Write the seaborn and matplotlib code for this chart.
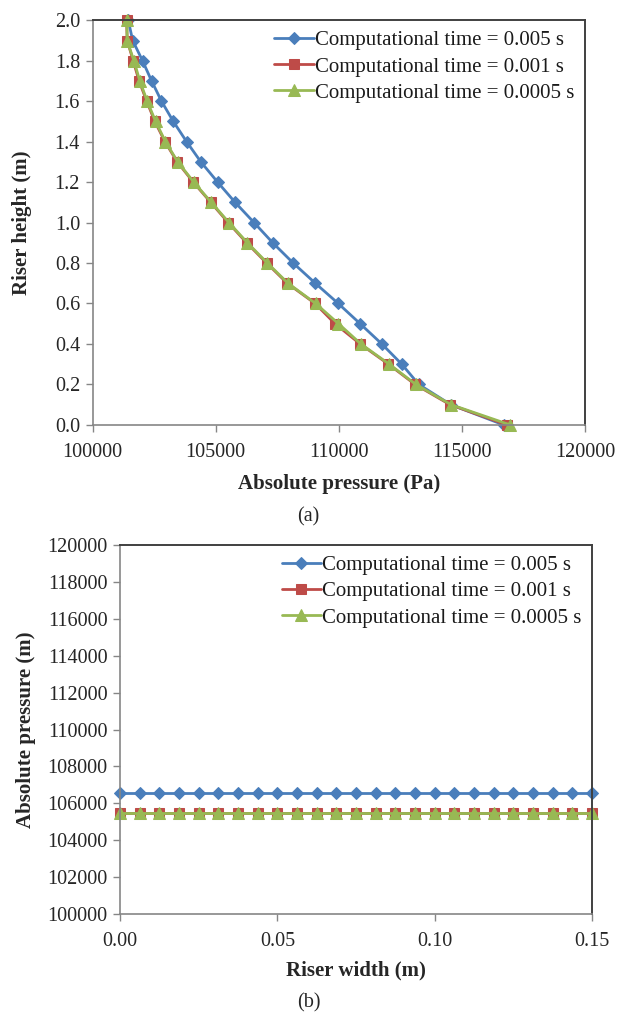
import numpy as np
import pandas as pd
import matplotlib
matplotlib.use("Agg")
import matplotlib.pyplot as plt
from matplotlib.ticker import FormatStrFormatter, MultipleLocator
import seaborn as sns

# ---------------- data ----------------
height = [2.0, 1.9, 1.8, 1.7, 1.6, 1.5, 1.4, 1.3, 1.2, 1.1, 1.0,
          0.9, 0.8, 0.7, 0.6, 0.5, 0.4, 0.3, 0.2, 0.1, 0.0]
p_dt_0005 = [101450, 101630, 102030, 102400, 102800, 103280, 103820, 104400,
             105080, 105790, 106560, 107320, 108150, 109050, 109980, 110870,
             111750, 112560, 113250, 114550, 116700]
p_dt_0001 = [101380, 101410, 101650, 101890, 102200, 102530, 102940, 103440,
             104090, 104800, 105510, 106260, 107070, 107910, 109040, 109850,
             110870, 112020, 113100, 114520, 116830]
p_dt_00005 = [101400, 101400, 101680, 101920, 102220, 102560, 102960, 103460,
              104110, 104820, 105540, 106290, 107100, 107940, 109060, 109990,
              110900, 112050, 113130, 114560, 116960]

width = [0.0, 0.00625, 0.0125, 0.01875, 0.025, 0.03125, 0.0375, 0.04375,
         0.05, 0.05625, 0.0625, 0.06875, 0.075, 0.08125, 0.0875, 0.09375,
         0.1, 0.10625, 0.1125, 0.11875, 0.125, 0.13125, 0.1375, 0.14375, 0.15]
pw_dt_0005 = [106580] * 25
pw_dt_0001 = [105480] * 25
pw_dt_00005 = [105500] * 25

labels = ["Computational time = 0.005 s",
          "Computational time = 0.001 s",
          "Computational time = 0.0005 s"]

# ---------------- style ----------------
sns.set_style("white")
plt.rcParams["font.family"] = ["Liberation Serif", "DejaVu Serif"]

colors = ["#4A7EBB", "#BE4B48", "#98B954"]
markers = ["D", "s", "^"]
msizes = [6.5, 7.5, 8.5]

fig = plt.figure(figsize=(6.17, 10.14), dpi=100)
ax1 = fig.add_axes([0.150, 0.581, 0.798, 0.399])
ax2 = fig.add_axes([0.1945, 0.0986, 0.765, 0.3639])

FS_TICK = 14.5
FS_LAB = 15
FS_LEG = 15


def style_axes(ax):
    for s in ["left", "bottom"]:
        ax.spines[s].set_color("#868686")
        ax.spines[s].set_linewidth(1.2)
    for s in ["top", "right"]:
        ax.spines[s].set_color("#404040")
        ax.spines[s].set_linewidth(1.4)
    ax.tick_params(axis="both", which="major", direction="out", length=5,
                   width=1.0, color="#868686", labelsize=FS_TICK, pad=4,
                   bottom=True, left=True, top=False, right=False)
    ax.tick_params(axis="x", pad=8)
    for lab in ax.get_xticklabels() + ax.get_yticklabels():
        lab.set_color("#262626")


def add_legend(ax):
    leg = ax.legend(loc="upper right", frameon=False, fontsize=FS_LEG,
                    handlelength=1.9, handletextpad=0.05, labelspacing=0.32,
                    borderaxespad=0.2, borderpad=0.3)
    for t in leg.get_texts():
        t.set_color("#1a1a1a")


# ---------------- (a) ----------------
for p, c, m, ms, lab in zip([p_dt_0005, p_dt_0001, p_dt_00005],
                            colors, markers, msizes, labels):
    df = pd.DataFrame({"p": p, "h": height})
    sns.lineplot(data=df, x="p", y="h", sort=False, estimator=None, ax=ax1,
                 color=c, marker=m, markersize=ms, markeredgecolor=c,
                 linewidth=2.0, label=lab)

ax1.set_xlim(100000, 120000)
ax1.set_ylim(0.0, 2.0)
ax1.xaxis.set_major_locator(MultipleLocator(5000))
ax1.yaxis.set_major_locator(MultipleLocator(0.2))
ax1.yaxis.set_major_formatter(FormatStrFormatter("%.1f"))
ax1.xaxis.set_major_formatter(FormatStrFormatter("%d"))
ax1.set_xlabel("Absolute pressure (Pa)", fontsize=FS_LAB, fontweight="bold", labelpad=9)
ax1.set_ylabel("Riser height (m)", fontsize=FS_LAB, fontweight="bold", labelpad=16)
style_axes(ax1)
add_legend(ax1)

# ---------------- (b) ----------------
for p, c, m, ms, lab in zip([pw_dt_0005, pw_dt_0001, pw_dt_00005],
                            colors, markers, msizes, labels):
    df = pd.DataFrame({"w": width, "p": p})
    sns.lineplot(data=df, x="w", y="p", sort=False, estimator=None, ax=ax2,
                 color=c, marker=m, markersize=ms, markeredgecolor=c,
                 linewidth=2.0, label=lab)

ax2.set_xlim(0.0, 0.15)
ax2.set_ylim(100000, 120000)
ax2.xaxis.set_major_locator(MultipleLocator(0.05))
ax2.yaxis.set_major_locator(MultipleLocator(2000))
ax2.xaxis.set_major_formatter(FormatStrFormatter("%.2f"))
ax2.yaxis.set_major_formatter(FormatStrFormatter("%d"))
ax2.set_xlabel("Riser width (m)", fontsize=FS_LAB, fontweight="bold", labelpad=7)
ax2.set_ylabel("Absolute pressure (m)", fontsize=FS_LAB, fontweight="bold", labelpad=8)
style_axes(ax2)
add_legend(ax2)

for a in (ax1, ax2):
    for line in a.get_lines():
        line.set_clip_on(False)

fig.text(0.5, 0.490, "(a)", ha="center", va="center", fontsize=FS_TICK)
fig.text(0.5, 0.011, "(b)", ha="center", va="center", fontsize=FS_TICK)

fig.savefig("out.png", dpi=100, facecolor="white")
